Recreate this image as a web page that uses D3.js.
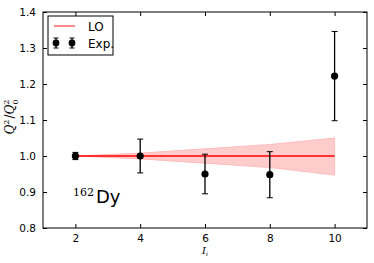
<!DOCTYPE html>
<html>
<head>
<meta charset="utf-8">
<script src="https://cdn.jsdelivr.net/npm/d3@7"></script>
<style>
  body { margin: 0; background: #fff; }
  svg { display: block; }
</style>
</head>
<body>
<div id="chart"></div>
<script>
// measured values
var spins = [2, 4, 6, 8, 10]
var expValues = [1.0, 1.0, 0.95, 0.948, 1.222]
var expErrors = [0.01, 0.047, 0.055, 0.064, 0.124]
var loValues = [1.0, 1.0, 1.0, 1.0, 1.0]
var loUpper = [1.0, 1.008, 1.02, 1.032, 1.05]
var loLower = [1.0, 0.992, 0.98, 0.968, 0.947]
var xTicks = [2, 4, 6, 8, 10]
var yTicks = [0.8, 0.9, 1.0, 1.1, 1.2, 1.3, 1.4]

var width = 374, height = 263
var margin = {top: 12, right: 7, bottom: 35, left: 43}
var w = width - margin.left - margin.right,
    h = height - margin.top - margin.bottom

var svg = d3.select("#chart").append("svg")
    .attr("width", width)
    .attr("height", height)

var g = svg.append("g")
    .attr("transform", "translate(" + margin.left + "," + margin.top + ")")

var x = d3.scaleLinear().domain([1, 11]).range([0, w])
var y = d3.scaleLinear().domain([0.8, 1.4]).range([h, 0])

// LO band
var area = d3.area()
    .x(function (d, i) { return x(spins[i]) })
    .y0(function (d, i) { return y(loLower[i]) })
    .y1(function (d, i) { return y(loUpper[i]) })

g.append("path")
    .datum(spins)
    .attr("d", area)
    .attr("fill", "#ffcccc")
    .attr("stroke", "#ffb3b3")
    .attr("stroke-width", 0.8)

var line = d3.line()
    .x(function (d, i) { return x(spins[i]) })
    .y(function (d, i) { return y(loValues[i]) })

g.append("path")
    .datum(spins)
    .attr("d", line)
    .attr("fill", "none")
    .attr("stroke", "#ff0000")
    .attr("stroke-width", 1.5)

// error bars
var pts = g.selectAll("g.pt")
    .data(spins)
    .enter().append("g")
    .attr("class", "pt")

pts.append("line")
    .attr("x1", function (d) { return x(d) })
    .attr("x2", function (d) { return x(d) })
    .attr("y1", function (d, i) { return y(expValues[i] - expErrors[i]) })
    .attr("y2", function (d, i) { return y(expValues[i] + expErrors[i]) })
    .attr("stroke", "#000").attr("stroke-width", 1.3)

;[-1, 1].forEach(function (s) {
    pts.append("line")
        .attr("x1", function (d) { return x(d) - 3 })
        .attr("x2", function (d) { return x(d) + 3 })
        .attr("y1", function (d, i) { return y(expValues[i] + s * expErrors[i]) })
        .attr("y2", function (d, i) { return y(expValues[i] + s * expErrors[i]) })
        .attr("stroke", "#000").attr("stroke-width", 1)
})

pts.append("circle")
    .attr("cx", function (d) { return x(d) })
    .attr("cy", function (d, i) { return y(expValues[i]) })
    .attr("r", 3.6)
    .attr("fill", "#000")

// frame
g.append("rect")
    .attr("width", w).attr("height", h)
    .attr("fill", "none").attr("stroke", "#000").attr("stroke-width", 1)

// axes, ticks pointing inward on all sides
var font = "DejaVu Sans, sans-serif"
var xb = g.append("g").attr("transform", "translate(0," + h + ")")
    .call(d3.axisBottom(x).tickValues(xTicks).tickSize(-4).tickPadding(7).tickFormat(d3.format("d")))
var xt = g.append("g")
    .call(d3.axisTop(x).tickValues(xTicks).tickSize(-4).tickFormat(""))
var yl = g.append("g")
    .call(d3.axisLeft(y).tickValues(yTicks).tickSize(-4).tickPadding(7).tickFormat(d3.format(".1f")))
var yr = g.append("g").attr("transform", "translate(" + w + ",0)")
    .call(d3.axisRight(y).tickValues(yTicks).tickSize(-4).tickFormat(""))

;[xb, xt, yl, yr].forEach(function (a) {
    a.select(".domain").remove()
    a.selectAll("text").attr("font-family", font).attr("font-size", 10.5).attr("fill", "#000")
    a.selectAll("line").attr("stroke", "#000")
})

// axis labels
svg.append("text")
    .attr("x", margin.left + x(6))
    .attr("y", 254)
    .attr("text-anchor", "middle")
    .attr("font-family", "DejaVu Serif, serif")
    .attr("font-style", "italic")
    .attr("font-size", 10)
    .html('I<tspan font-size="6" dy="2">i</tspan>')

var ylab = svg.append("text")
    .attr("transform", "translate(14,117) rotate(-90)")
    .attr("text-anchor", "middle")
    .attr("font-family", "DejaVu Serif, serif")
    .attr("font-size", 12)
ylab.append("tspan").attr("font-style", "italic").text("Q")
ylab.append("tspan").attr("font-size", 8).attr("dy", -5).text("2")
ylab.append("tspan").attr("dy", 5).attr("dx", 1).text("/")
ylab.append("tspan").attr("font-style", "italic").text("Q")
ylab.append("tspan").attr("font-size", 8).attr("dy", -5).text("2")
ylab.append("tspan").attr("font-size", 8).attr("dx", -5).attr("dy", 9).text("0")

// nucleus annotation
var ann = svg.append("text").attr("x", 73).attr("y", 203)
ann.append("tspan")
    .attr("font-family", "DejaVu Serif, serif")
    .attr("font-size", 11)
    .attr("dy", -7)
    .text("162")
ann.append("tspan")
    .attr("font-family", font)
    .attr("font-size", 18)
    .attr("dx", 2)
    .attr("dy", 7)
    .text("Dy")

// legend
var leg = svg.append("g").attr("transform", "translate(48,16)")
leg.append("rect")
    .attr("width", 65).attr("height", 39)
    .attr("fill", "#fff").attr("stroke", "#000").attr("stroke-width", 1)
leg.append("line")
    .attr("x1", 6).attr("x2", 27).attr("y1", 10).attr("y2", 10)
    .attr("stroke", "#ff0000").attr("stroke-opacity", 0.6).attr("stroke-width", 1.5)
leg.append("text").attr("x", 40).attr("y", 15)
    .attr("font-family", font).attr("font-size", 12).text("LO")
;[8, 24].forEach(function (cx) {
    leg.append("line").attr("x1", cx).attr("x2", cx).attr("y1", 22).attr("y2", 32)
        .attr("stroke", "#000").attr("stroke-width", 1.2)
    leg.append("line").attr("x1", cx - 2.5).attr("x2", cx + 2.5).attr("y1", 22).attr("y2", 22)
        .attr("stroke", "#000")
    leg.append("line").attr("x1", cx - 2.5).attr("x2", cx + 2.5).attr("y1", 32).attr("y2", 32)
        .attr("stroke", "#000")
    leg.append("circle").attr("cx", cx).attr("cy", 27).attr("r", 3.4).attr("fill", "#000")
})
leg.append("text").attr("x", 40).attr("y", 32)
    .attr("font-family", font).attr("font-size", 12).text("Exp.")
</script>
</body>
</html>
